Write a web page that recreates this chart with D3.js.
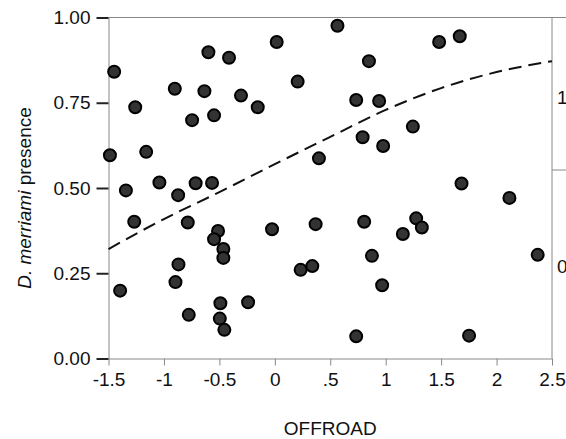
<!DOCTYPE html>
<html>
<head>
<meta charset="utf-8">
<script src="https://cdn.jsdelivr.net/npm/d3@7"></script>
<style>
	body { margin: 0; background: #fff; }
	text { font-family: "Liberation Sans", Arial, sans-serif; fill: #111; }
</style>
</head>
<body>
<div id="chart"></div>
<script>
// observed points (OFFROAD, presence)
var offroad = [-1.449, -1.259, -1.487, -1.160, -1.343, -1.041, -0.902, -0.599, -0.635, -0.746,
	-0.548, -0.413, -0.305, -0.154, 0.017, 0.206, 0.398, 0.565, -0.714, -0.566,
	-0.872, -1.268, -0.785, -0.512, -0.548, -0.464, -0.464, -0.025, 0.368, -0.869,
	-0.896, -1.395, -0.491, -0.241, -0.776, -0.496, -0.455, 0.233, 0.338, 1.482,
	1.668, 0.849, 0.734, 0.941, 1.245, 0.792, 0.977, 1.684, 2.116, 0.806,
	1.275, 1.326, 1.155, 0.876, 2.371, 0.968, 0.734, 1.752];
var presence = [0.841, 0.737, 0.596, 0.606, 0.493, 0.516, 0.791, 0.898, 0.784, 0.699,
	0.713, 0.882, 0.771, 0.737, 0.928, 0.812, 0.587, 0.976, 0.514, 0.515,
	0.479, 0.401, 0.399, 0.374, 0.350, 0.321, 0.295, 0.379, 0.394, 0.276,
	0.224, 0.199, 0.162, 0.165, 0.128, 0.117, 0.084, 0.260, 0.271, 0.928,
	0.945, 0.872, 0.758, 0.755, 0.680, 0.649, 0.623, 0.513, 0.471, 0.401,
	0.411, 0.384, 0.365, 0.301, 0.304, 0.215, 0.065, 0.067];

// fitted curve
var fitX = [-1.5, -1, -0.5, 0, 0.5, 1, 1.5, 2, 2.5];
var fitY = [0.321, 0.409, 0.488, 0.570, 0.650, 0.729, 0.793, 0.840, 0.872];

var xTicks = [-1.5, -1, -0.5, 0, 0.5, 1, 1.5, 2, 2.5];
var xTickLabels = ["-1.5", "-1", "-0.5", "0", ".5", "1", "1.5", "2", "2.5"];
var yTicks = [0, 0.25, 0.5, 0.75, 1];
var yTickLabels = ["0.00", "0.25", "0.50", "0.75", "1.00"];
var rightTicks = [1, 0];
var rightTickLabels = ["1", "0"];

var width = 566, height = 439;
var margin = { top: 17.5, right: 14, bottom: 80.5, left: 108.5 };
var w = width - margin.left - margin.right;
var h = height - margin.top - margin.bottom;

var svg = d3.select("#chart").append("svg")
	.attr("width", width)
	.attr("height", height);

var g = svg.append("g").attr("transform", "translate(" + margin.left + "," + margin.top + ")");

var x = d3.scaleLinear().domain([-1.5, 2.5]).range([0, w]);
var y = d3.scaleLinear().domain([0, 1]).range([h, 0]);
// second panel on the right edge (cut off in the original)
var y2 = d3.scaleLinear().domain([0, 1]).range([266 - margin.top, 97 - margin.top]);

// frame: top line runs past the right axis
g.append("line")
	.attr("x1", 0).attr("x2", width - margin.left)
	.attr("y1", 0).attr("y2", 0)
	.attr("stroke", "#888").attr("stroke-width", 1);
g.append("line")
	.attr("x1", w).attr("x2", w)
	.attr("y1", 0).attr("y2", h)
	.attr("stroke", "#888").attr("stroke-width", 1);
g.append("line")
	.attr("x1", w).attr("x2", width - margin.left)
	.attr("y1", Math.round(y2(0.57)) + 0.5).attr("y2", Math.round(y2(0.57)) + 0.5)
	.attr("stroke", "#888").attr("stroke-width", 1);

g.selectAll(".rlabel")
	.data(rightTicks)
	.enter().append("text")
		.attr("class", "rlabel")
		.attr("x", w + 5)
		.attr("y", function(d){ return y2(d); })
		.attr("dy", "0.35em")
		.style("font-size", "19px")
		.text(function(d, i){ return rightTickLabels[i]; });

// x axis
var xAxis = g.append("g")
	.attr("transform", "translate(0," + h + ")")
	.call(d3.axisBottom(x).tickValues(xTicks).tickSize(7).tickSizeOuter(0)
		.tickFormat(function(d, i){ return xTickLabels[i]; }));
xAxis.select(".domain").attr("stroke", "#888");
xAxis.selectAll(".tick line").attr("stroke", "#888");
xAxis.selectAll(".tick text")
	.attr("y", 14)
	.style("font-size", "19px")
	.style("font-family", "'Liberation Sans', Arial, sans-serif")
	.attr("fill", "#111");

// y axis
var yAxis = g.append("g")
	.call(d3.axisLeft(y).tickValues(yTicks).tickSize(12).tickSizeOuter(0)
		.tickFormat(function(d, i){ return yTickLabels[i]; }));
yAxis.select(".domain").attr("stroke", "#888");
yAxis.selectAll(".tick line").attr("stroke", "#222").attr("stroke-width", 2);
yAxis.selectAll(".tick text")
	.attr("x", -18)
	.style("font-size", "19px")
	.style("font-family", "'Liberation Sans', Arial, sans-serif")
	.attr("fill", "#111");

// axis titles
svg.append("text")
	.attr("x", margin.left + w / 2)
	.attr("y", 435)
	.attr("text-anchor", "middle")
	.style("font-size", "19px")
	.text("OFFROAD");

var ylab = svg.append("text")
	.attr("transform", "translate(31," + 198 + ") rotate(-90)")
	.attr("text-anchor", "middle")
	.style("font-size", "19px");
ylab.append("tspan").style("font-style", "italic").text("D. merriami");
ylab.append("tspan").text(" presence");

// fitted curve
var line = d3.line()
	.x(function(d){ return x(d[0]); })
	.y(function(d){ return y(d[1]); })
	.curve(d3.curveMonotoneX);

g.append("path")
	.datum(fitX.map(function(v, i){ return [v, fitY[i]]; }))
	.attr("d", line)
	.attr("fill", "none")
	.attr("stroke", "#111")
	.attr("stroke-width", 2)
	.attr("stroke-dasharray", "13,7");

// points
g.append("g")
	.selectAll("circle")
	.data(offroad.map(function(v, i){ return [v, presence[i]]; }))
	.enter().append("circle")
		.attr("cx", function(d){ return x(d[0]); })
		.attr("cy", function(d){ return y(d[1]); })
		.attr("r", 6)
		.attr("fill", "#333")
		.attr("stroke", "#000")
		.attr("stroke-width", 2);
</script>
</body>
</html>
